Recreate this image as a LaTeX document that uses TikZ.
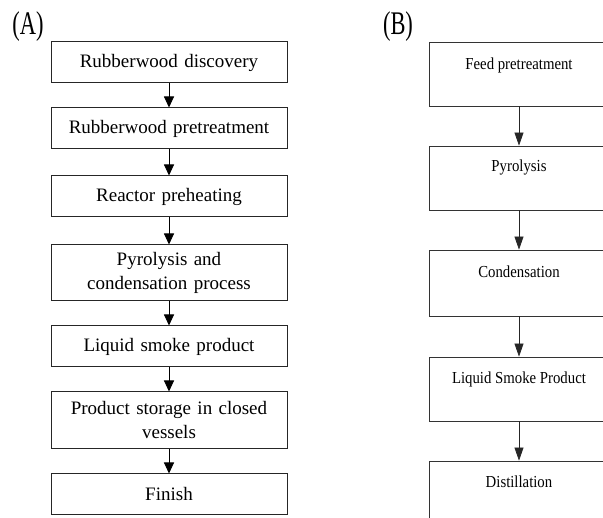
\documentclass[tikz,border=0pt]{standalone}
\usepackage{fontspec}
\setmainfont{Liberation Serif}
\newfontfamily\condfont[FakeStretch=0.88]{Liberation Serif}
\newfontfamily\labfont[FakeStretch=0.68]{Liberation Serif}
\usetikzlibrary{arrows.meta}
\begin{document}
\begin{tikzpicture}[x=1pt,y=-1pt,
  lbox/.style={draw=black!85,line width=1pt,minimum width=236pt,text width=230pt,align=center,inner sep=0pt,font=\fontsize{19}{24}\selectfont},
  rbox/.style={draw=black!80,line width=0.8pt,minimum width=180pt,minimum height=64pt,inner sep=0pt},
  rtext/.style={font=\condfont\fontsize{16.8}{19}\selectfont,inner sep=0pt},
  larr/.style={draw=black,line width=0.9pt,-{Triangle[width=10pt,length=11pt]}},
  rarr/.style={draw=black!85,line width=0.7pt,-{Triangle[width=9pt,length=13pt]}},
  panel/.style={font=\labfont\fontsize{33}{36}\selectfont,inner sep=0pt}]
\useasboundingbox (0,0) rectangle (603,518);
\clip (0,0) rectangle (603,518);
% panel labels
\node[panel] (labA) at (28,27) {(A)};
\node[panel] (labB) at (398,27) {(B)};
% left flow
\node[lbox,minimum height=41pt] (a1) at (169,62.5) {Rubberwood discovery};
\node[lbox,minimum height=41pt] (a2) at (169,128.5) {Rubberwood pretreatment};
\node[lbox,minimum height=41pt] (a3) at (169,196.5) {Reactor preheating};
\node[lbox,minimum height=56pt] (a4) at (169,273) {Pyrolysis and\\condensation process};
\node[lbox,minimum height=41pt] (a5) at (169,346.5) {Liquid smoke product};
\node[lbox,minimum height=57pt] (a6) at (169,420.5) {Product storage in closed\\vessels};
\node[lbox,minimum height=41pt] (a7) at (169,494.5) {Finish};
\draw[larr] (a1.south) -- (a2.north);
\draw[larr] (a2.south) -- (a3.north);
\draw[larr] (a3.south) -- (a4.north);
\draw[larr] (a4.south) -- (a5.north);
\draw[larr] (a5.south) -- (a6.north);
\draw[larr] (a6.south) -- (a7.north);
% right flow
\node[rbox] (b1) at (519,74) {};
\node[rbox] (b2) at (519,178) {};
\node[rbox,minimum height=66pt] (b3) at (519,283) {};
\node[rbox] (b4) at (519,389) {};
\node[rbox] (b5) at (519,493) {};
\node[rtext] (t1) at (519,65) {Feed pretreatment};
\node[rtext] (t2) at (519,167) {Pyrolysis};
\node[rtext] (t3) at (519,272) {Condensation};
\node[rtext] (t4) at (519,379) {Liquid Smoke Product};
\node[rtext] (t5) at (519,482) {Distillation};
\draw[rarr] (b1.south) -- (b2.north);
\draw[rarr] (b2.south) -- (b3.north);
\draw[rarr] (b3.south) -- (b4.north);
\draw[rarr] (b4.south) -- (b5.north);
\end{tikzpicture}
\end{document}
